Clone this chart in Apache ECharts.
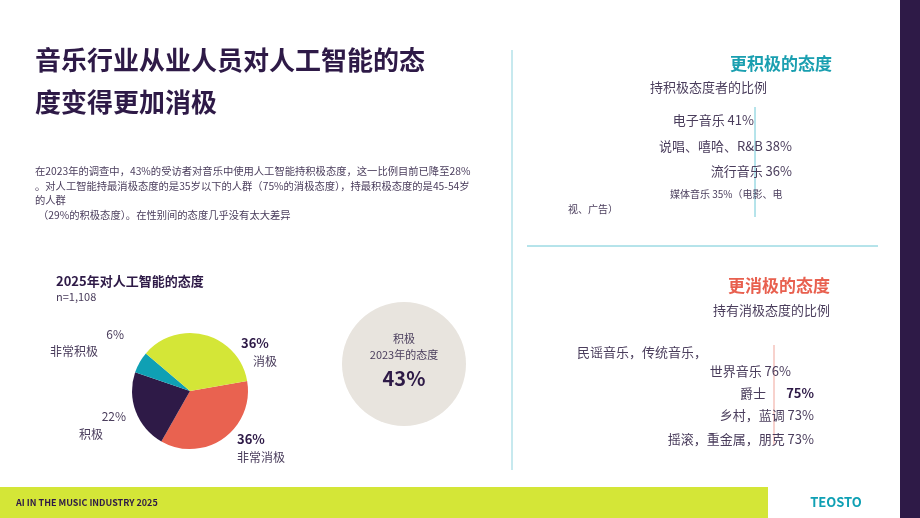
<!DOCTYPE html>
<html><head><meta charset="utf-8">
<script src="https://cdn.jsdelivr.net/npm/echarts@6/dist/echarts.min.js"></script>
<style>html,body{margin:0;padding:0;background:#fff}#c{width:920px;height:518px}</style>
</head><body><div id="c"></div>
<script>
const categories = ['非常消极', '积极', '非常积极', '消极'];
const values = [36, 22, 6, 36];
const sliceColors = ['#e96250', '#2e1a47', '#0fa0b4', '#d4e637'];
const positiveGenres = ['电子音乐 41%', '说唱、嘻哈、R&B 38%', '流行音乐 36%'];
const negativeGenres = ['世界音乐 76%', '乡村，蓝调 73%', '摇滚，重金属，朋克 73%'];

const F = '"Noto Sans CJK SC","Noto Sans",sans-serif';
const dark = '#2e1a47', grey = '#4a3d5c';
function t(x, y, text, size, opts) {
  opts = opts || {};
  return {type:'text', x:x, y:y, style:{text:text, fontSize:size, fontFamily:F,
    fill:opts.fill||grey, fontWeight:opts.bold?'bold':'normal', align:opts.align||'left', verticalAlign:'middle'}};
}
const g = [];
g.push({type:'rect', shape:{x:900,y:0,width:20,height:518}, style:{fill:dark}});
g.push({type:'rect', shape:{x:0,y:487,width:768,height:31}, style:{fill:'#d4e637'}});
g.push(t(16,503,'AI IN THE MUSIC INDUSTRY 2025',9,{fill:dark,bold:true}));
g.push(t(836,502,'TEOSTO',13,{fill:'#0fa0b4',bold:true,align:'center'}));
g.push({type:'line', shape:{x1:512,y1:50,x2:512,y2:470}, style:{stroke:'#8fd3de',lineWidth:1}});
g.push({type:'line', shape:{x1:527,y1:246,x2:878,y2:246}, style:{stroke:'#6cc8d6',lineWidth:1}});
g.push({type:'line', shape:{x1:755,y1:107,x2:755,y2:217}, style:{stroke:'#6cc8d6',lineWidth:1}});
g.push({type:'line', shape:{x1:774,y1:345,x2:774,y2:445}, style:{stroke:'#f0a59b',lineWidth:1}});
g.push(t(35,60,'音乐行业从业人员对人工智能的态',26,{fill:dark,bold:true}));
g.push(t(35,102,'度变得更加消极',26,{fill:dark,bold:true}));
g.push(t(35,171,'在2023年的调查中，43%的受访者对音乐中使用人工智能持积极态度，这一比例目前已降至28%',10.3));
g.push(t(35,186,'。对人工智能持最消极态度的是35岁以下的人群（75%的消极态度），持最积极态度的是45-54岁',10.3));
g.push(t(35,200,'的人群',10.3));
g.push(t(38,215,'（29%的积极态度）。在性别间的态度几乎没有太大差异',10.3));
g.push(t(56,281,'2025年对人工智能的态度',13,{fill:dark,bold:true}));
g.push(t(56,297,'n=1,108',11));
g.push(t(124,334,'6%',12,{align:'right'}));
g.push(t(98,351,'非常积极',12,{align:'right'}));
g.push(t(126,416,'22%',12,{align:'right'}));
g.push(t(103,434,'积极',12,{align:'right'}));
g.push(t(241,343,'36%',13,{fill:dark,bold:true}));
g.push(t(253,361,'消极',12));
g.push(t(237,439,'36%',13,{fill:dark,bold:true}));
g.push(t(237,457,'非常消极',12));
g.push({type:'circle', shape:{cx:404,cy:364,r:62}, style:{fill:'#e8e4de'}});
g.push(t(404,339,'积极',11,{align:'center'}));
g.push(t(404,355,'2023年的态度',11,{align:'center'}));
g.push(t(404,378,'43%',20,{fill:dark,bold:true,align:'center'}));
g.push(t(832,64,'更积极的态度',17,{fill:'#1a9fb0',bold:true,align:'right'}));
g.push(t(767,87,'持积极态度者的比例',13,{align:'right'}));
const posRight=[754,792,792], posY=[120,146,171];
positiveGenres.forEach((s,i)=>g.push(t(posRight[i],posY[i],s,13,{align:'right'})));
g.push(t(670,194,'媒体音乐 35%（电影、电',10));
g.push(t(568,209,'视、广告）',10));
g.push(t(830,286,'更消极的态度',17,{fill:'#e8604f',bold:true,align:'right'}));
g.push(t(830,310,'持有消极态度的比例',13,{align:'right'}));
g.push(t(577,352,'民谣音乐，传统音乐，',13));
const negRight=[791,814,814], negY=[371,415,439];
negativeGenres.forEach((s,i)=>g.push(t(negRight[i],negY[i],s,13,{align:'right'})));
g.push(t(766,393,'爵士',13,{align:'right'}));
g.push(t(814,393,'75%',13,{fill:dark,bold:true,align:'right'}));

const chart = echarts.init(document.getElementById('c'));
chart.setOption({
  animation:false,
  series:[{type:'pie', center:[190,391], radius:[0,58], startAngle:10, clockwise:true,
    label:{show:false}, labelLine:{show:false},
    data:categories.map((c,i)=>({name:c,value:values[i],itemStyle:{color:sliceColors[i]}}))}],
  graphic:g
});
</script></body></html>
